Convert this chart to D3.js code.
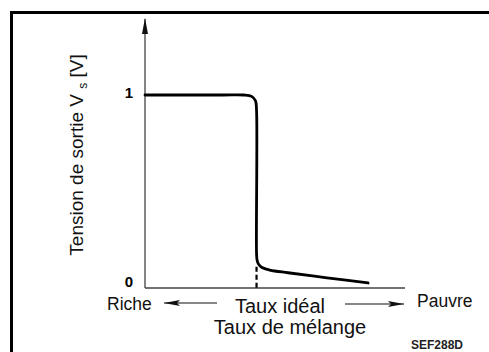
<!DOCTYPE html>
<html>
<head>
<meta charset="utf-8">
<script src="https://cdn.jsdelivr.net/npm/d3@7/dist/d3.min.js"></script>
<style>
  html, body { margin: 0; padding: 0; background: #fff; }
  svg { display: block; font-family: "Liberation Sans", Arial, sans-serif; }
</style>
</head>
<body>
<svg id="chart" width="489" height="352"></svg>
<script>
// Oxygen sensor output voltage vs. air/fuel mixture ratio (0 = rich .. 100 = lean)
const mixture = [0, 30, 38, 41, 42.5, 42.9, 42.9, 43.1, 43.6, 45, 48, 55, 70, 85.8];
const voltage = [1.0, 1.0, 1.0, 0.993, 0.97, 0.92, 0.18, 0.145, 0.125, 0.106, 0.093, 0.079, 0.053, 0.026];
const idealRatio = 42.9;
const idealMarkTop = 0.11;
const yTicks = [0, 1];
const yTickLabels = ["0", "1"];

const svg = d3.select("#chart");
const x = d3.scaleLinear().domain([0, 100]).range([145, 405]);
const y = d3.scaleLinear().domain([0, 1]).range([288, 95]);

// Frame
svg.append("path")
  .attr("d", "M11.5,352 L11.5,12.5 L489,12.5")
  .attr("fill", "none").attr("stroke", "#000").attr("stroke-width", 3);

// Arrow markers (shape points along +x, oriented by the line direction)
const defs = svg.append("defs");
defs.append("marker").attr("id", "tipUp")
  .attr("viewBox", "0 0 16 6").attr("refX", 15).attr("refY", 3)
  .attr("markerWidth", 16).attr("markerHeight", 6).attr("markerUnits", "userSpaceOnUse")
  .attr("orient", "auto")
  .append("path").attr("d", "M0,0 L16,3 L0,6 Z").attr("fill", "#111");
defs.append("marker").attr("id", "tipSide")
  .attr("viewBox", "0 0 16 6").attr("refX", 16).attr("refY", 3)
  .attr("markerWidth", 16).attr("markerHeight", 6).attr("markerUnits", "userSpaceOnUse")
  .attr("orient", "auto")
  .append("path").attr("d", "M0,0 L16,3 L0,6 L3,3 Z").attr("fill", "#111");

// Y axis with arrow
svg.append("line")
  .attr("x1", x(0)).attr("y1", y(0)).attr("x2", x(0)).attr("y2", 19)
  .attr("stroke", "#333").attr("stroke-width", 1.2)
  .attr("marker-end", "url(#tipUp)");

// X axis
svg.append("line")
  .attr("x1", x(0)).attr("y1", y(0)).attr("x2", x(100)).attr("y2", y(0))
  .attr("stroke", "#444").attr("stroke-width", 1.5);

// Y tick labels
svg.selectAll("text.ytick").data(yTicks).join("text")
  .attr("class", "ytick")
  .attr("x", x(0) - 12).attr("y", d => y(d) + (d === 1 ? 3 : -1))
  .attr("text-anchor", "end")
  .attr("font-size", 15).attr("font-weight", "bold")
  .text((d, i) => yTickLabels[i]);

// Sensor curve
const pts = mixture.map((m, i) => [m, voltage[i]]);
svg.append("path")
  .datum(pts)
  .attr("d", d3.line().x(d => x(d[0])).y(d => y(d[1])).curve(d3.curveCatmullRom.alpha(0.5)))
  .attr("fill", "none").attr("stroke", "#000").attr("stroke-width", 2.8)
  .attr("stroke-linejoin", "round").attr("stroke-linecap", "round");

// Ideal ratio marker
svg.append("line")
  .attr("x1", x(idealRatio)).attr("x2", x(idealRatio))
  .attr("y1", y(idealMarkTop)).attr("y2", y(0))
  .attr("stroke", "#000").attr("stroke-width", 2.2)
  .attr("stroke-dasharray", "5,3");

// Y axis title
const yt = svg.append("text")
  .attr("transform", "translate(83,155) rotate(-90)")
  .attr("text-anchor", "middle")
  .attr("font-size", 19).attr("fill", "#111");
yt.append("tspan").text("Tension de sortie V ");
yt.append("tspan").attr("font-size", 12).attr("dy", 4).text("s");
yt.append("tspan").attr("dy", -4).text(" [V]");

// Bottom labels
const lab = (t, xx, yy, size, anchor) => svg.append("text")
  .attr("x", xx).attr("y", yy).attr("font-size", size)
  .attr("text-anchor", anchor || "start").attr("fill", "#111").text(t);
lab("Riche", 107, 310, 17.5);
lab("Taux idéal", 280, 313, 20, "middle");
lab("Pauvre", 417, 307, 17.5);
lab("Taux de mélange", 290, 334, 20, "middle");
lab("SEF288D", 437, 349, 12, "middle").attr("font-weight", "bold").attr("fill", "#222");

// Rich / lean direction arrows
svg.append("line").attr("x1", 217).attr("y1", 303).attr("x2", 164).attr("y2", 303)
  .attr("stroke", "#111").attr("stroke-width", 1.2).attr("marker-end", "url(#tipSide)");
svg.append("line").attr("x1", 345).attr("y1", 304).attr("x2", 404).attr("y2", 304)
  .attr("stroke", "#111").attr("stroke-width", 1.2).attr("marker-end", "url(#tipSide)");
</script>
</body>
</html>
